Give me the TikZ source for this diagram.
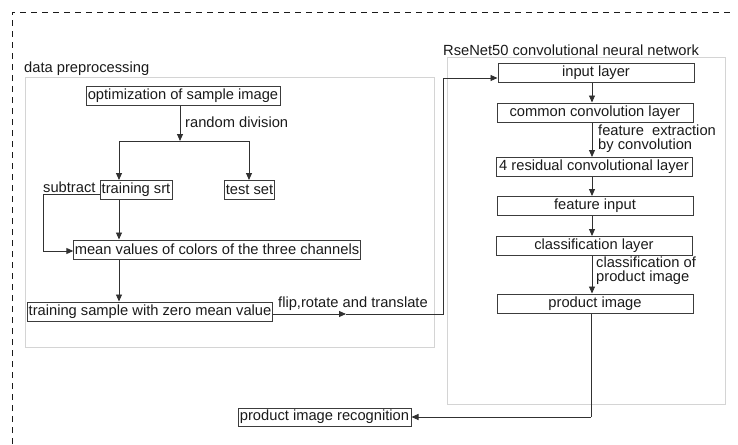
\documentclass[tikz,border=0pt]{standalone}
\usepackage{fontspec}
\setmainfont{Liberation Sans}
\usetikzlibrary{arrows.meta}
\definecolor{ink}{HTML}{1A1A1A}
\definecolor{frame}{HTML}{D4D4D4}
\tikzset{
  box/.style={draw=ink!85, line width=1pt, inner sep=1pt, font=\fontsize{14.7}{15}\selectfont, text=ink, minimum height=19pt},
  rbox/.style={box, minimum width=196pt},
  lbl/.style={font=\fontsize{14.7}{15}\selectfont, text=ink, inner sep=0pt},
  conn/.style={draw=ink!90, line width=0.9pt},
  arr/.style={conn, -{Triangle[width=6pt,length=7pt]}},
  group/.style={draw=frame, line width=1pt}
}
\begin{document}
\begin{tikzpicture}[x=1pt,y=-1pt]
\useasboundingbox (0,0) rectangle (738,444);
% outer dashed frame
\draw[ink, line width=0.9pt, dash pattern=on 6pt off 5pt] (12,444) -- (12,12) -- (732,12);
% group frames
\draw[group] (25,77) rectangle (434,347);
\draw[group] (447,58) rectangle (725,404);
\node[lbl, anchor=west] (tdp) at (24,69) {data preprocessing};
\node[lbl, anchor=west] (trn) at (443,50) {RseNet50 convolutional neural network};
% left nodes
\node[box, minimum width=194pt] (opt) at (183,95.5) {optimization of sample image};
\node[box, minimum width=72pt] (train) at (136,190) {training srt};
\node[box, minimum width=49pt] (test) at (249.5,190) {test set};
\node[box, minimum width=284pt] (mean) at (217,249.5) {mean values of colors of the three channels};
\node[box, minimum width=244pt] (zero) at (150,311.5) {training sample with zero mean value};
\node[box, minimum width=173pt, minimum height=18pt] (recog) at (324.5,417) {product image recognition};
% right nodes
\node[rbox] (input) at (596,73) {input layer};
\node[rbox] (common) at (595,112.5) {common convolution layer};
\node[rbox] (resid) at (594,167) {4 residual convolutional layer};
\node[rbox] (feat) at (595,206) {feature input};
\node[rbox] (cls) at (594,246) {classification layer};
\node[rbox] (prod) at (595,303.5) {product image};
% labels
\node[lbl, anchor=west] (lrd) at (185,122) {random division};
\node[lbl, anchor=west] (lsub) at (43,187) {subtract};
\node[lbl, anchor=west] (lflip) at (278,304) {flip,rotate and translate};
\node[lbl, anchor=west, align=left] (lfe) at (598,139) {feature~~extraction\\[-1pt]by convolution};
\node[lbl, anchor=west, align=left] (lcp) at (596,271) {classification of\\[-1pt]product image};
% coordinates
\coordinate (split) at (180,141);
\coordinate (sl) at (119,141);
\coordinate (sr) at (249,141);
\coordinate (subA) at (43,194);
\coordinate (subB) at (43,251);
\coordinate (mid) at (346,314);
\coordinate (up1) at (443,314);
\coordinate (up2) at (443,78);
\coordinate (down) at (591,417);
% left connectors
\draw[arr] (opt.south -| split) -- (split);
\draw[conn] (sl) -- (sr);
\draw[arr] (sl) -- (train.north -| sl);
\draw[arr] (sr) -- (test.north -| sr);
\draw[conn] (train.west |- subA) -- (subA) -- (subB);
\draw[arr] (subB) -- (mean.west |- subB);
\draw[arr] (train.south -| sl) -- (mean.north -| sl);
\draw[arr] (mean.south -| sl) -- (zero.north -| sl);
\draw[arr] (zero.east |- mid) -- (mid);
\draw[conn] (mid) -- (up1) -- (up2);
\draw[arr] (up2) -- (input.west |- up2);
% right connectors
\draw[arr] (input.south -| 592,0) -- (common.north -| 592,0);
\draw[arr] (common.south -| 592,0) -- (resid.north -| 592,0);
\draw[arr] (resid.south -| 592,0) -- (feat.north -| 592,0);
\draw[arr] (feat.south -| 592,0) -- (cls.north -| 592,0);
\draw[arr] (cls.south -| 592,0) -- (prod.north -| 592,0);
\draw[conn] (prod.south -| down) -- (down);
\draw[arr] (down) -- (recog.east);
\end{tikzpicture}
\end{document}
